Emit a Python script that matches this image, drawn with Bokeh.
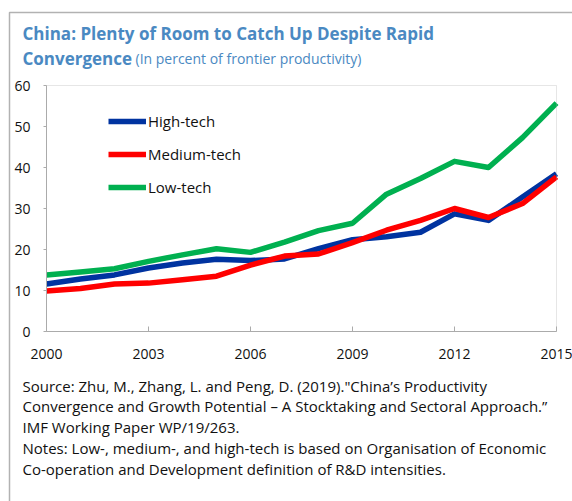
from bokeh.plotting import figure
from bokeh.models import Range1d, Label, Legend, LegendItem, BoxAnnotation, FixedTicker
from bokeh.embed import file_html
from bokeh.resources import INLINE

years = list(range(2000, 2016))
high_tech = [11.6, 12.8, 13.8, 15.5, 16.7, 17.6, 17.3, 17.7, 20.2, 22.4, 23.1, 24.2, 28.7, 27.1, 32.8, 38.5]
medium_tech = [9.9, 10.5, 11.6, 11.8, 12.6, 13.5, 16.2, 18.4, 18.9, 21.7, 24.7, 27.1, 30.0, 27.8, 31.2, 37.7]
low_tech = [13.8, 14.5, 15.3, 17.1, 18.7, 20.2, 19.3, 21.8, 24.6, 26.4, 33.5, 37.3, 41.5, 40.0, 47.3, 55.7]
x_ticks = [2000, 2003, 2006, 2009, 2012, 2015]
y_ticks = [0, 10, 20, 30, 40, 50, 60]

title1 = "China: Plenty of Room to Catch Up Despite Rapid"
title2 = "Convergence"
subtitle = "(In percent of frontier productivity)"
notes = [
    "Source: Zhu, M., Zhang, L. and Peng, D. (2019).\"China\u2019s Productivity",
    "Convergence and Growth Potential \u2013 A Stocktaking and Sectoral Approach.\u201d",
    "IMF Working Paper WP/19/263.",
    "Notes: Low-, medium-, and high-tech is based on Organisation of Economic",
    "Co-operation and Development definition of R&D intensities.",
]

FONT = "Open Sans"
TITLE_COLOR = "#4A89C2"
GRAY = "#ABABAB"

W, H = 572, 501
# chart box on the page: x 46..556, y 85..331
FL, FR, FT, FB = 46, 556, 85, 331
XS = 15 / (FR - FL)
YS = 60 / (FB - FT)
def dx(px):
    return 2000 + (px - FL) * XS
def dy(py):
    return (FB - py) * YS

p = figure(width=W, height=H, output_backend="svg", toolbar_location=None,
           x_range=Range1d(dx(0), dx(W)), y_range=Range1d(dy(H), dy(0)),
           min_border=0, min_border_left=0, min_border_right=0, min_border_top=0, min_border_bottom=0)
p.background_fill_color = "white"
p.border_fill_color = "white"
p.outline_line_color = None
p.xgrid.visible = False
p.ygrid.visible = False

p.xaxis.ticker = FixedTicker(ticks=x_ticks)
p.yaxis.ticker = FixedTicker(ticks=y_ticks)
p.xaxis.fixed_location = 0
p.yaxis.fixed_location = 2000
p.xaxis.bounds = (2000, 2015)
p.yaxis.bounds = (0, 60)
for ax in (p.xaxis[0], p.yaxis[0]):
    ax.axis_line_color = GRAY
    ax.major_tick_line_color = GRAY
    ax.minor_tick_line_color = None
    ax.major_label_text_font = FONT
    ax.major_label_text_font_size = "14px"
    ax.major_label_text_color = "#111111"
p.xaxis.major_tick_in = 5
p.xaxis.major_tick_out = 0
p.xaxis.major_label_standoff = 17
p.yaxis.major_tick_in = 0
p.yaxis.major_tick_out = 3
p.yaxis.major_label_standoff = 13

# chart box outline
p.add_layout(BoxAnnotation(left=2000, right=2015, bottom=0, top=60,
                           fill_alpha=0, line_color=GRAY, line_width=1))

lw = 5.5
r_low = p.line(years, low_tech, line_color="#00B050", line_width=lw, line_join="round")
r_high = p.line(years, high_tech, line_color="#0033A0", line_width=lw, line_join="round")
r_med = p.line(years, medium_tech, line_color="#FF0000", line_width=lw, line_join="round")

# legend location in px relative to bottom-left of canvas frame
legend = Legend(items=[LegendItem(label="High-tech", renderers=[r_high]),
                       LegendItem(label="Medium-tech", renderers=[r_med]),
                       LegendItem(label="Low-tech", renderers=[r_low])],
                location=(108, H - 197), glyph_width=38, glyph_height=20, label_height=20,
                spacing=13, padding=0, margin=0, label_standoff=2,
                label_text_font=FONT, label_text_font_size="15px", label_text_color="#111111",
                border_line_color=None, background_fill_alpha=0)
p.add_layout(legend, "center")

def lab(text, px, py, size, bold=False, color="#111111"):
    p.add_layout(Label(x=dx(px), y=dy(py), text=text,
                       text_font=FONT, text_font_size=size, text_font_style="bold" if bold else "normal",
                       text_color=color, text_baseline="alphabetic", text_align="left"))

lab(title1, 22, 33, "17px", True, TITLE_COLOR)
lab(title2, 22, 58, "17px", True, TITLE_COLOR)
lab(subtitle, 135, 58, "14px", False, TITLE_COLOR)
for i, t in enumerate(notes):
    lab(t, 22, 385 + i * 20.8, "15px")

# outer frame (left and top edges visible)
p.add_layout(BoxAnnotation(left=dx(9), right=dx(W + 50), top=dy(12), bottom=dy(H + 50),
                           fill_alpha=0, line_color="black", line_width=1.5))

open("out.html", "w").write(file_html(p, INLINE))
